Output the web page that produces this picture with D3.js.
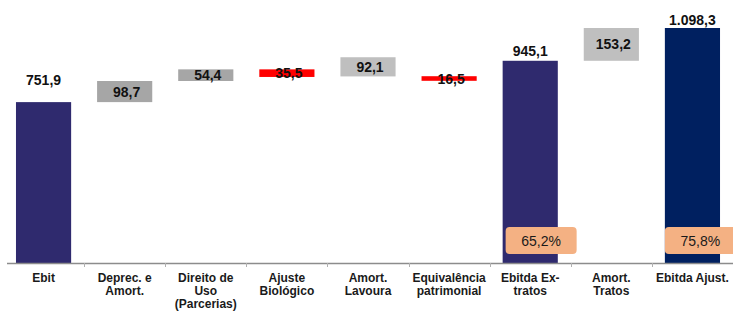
<!DOCTYPE html>
<html>
<head>
<meta charset="utf-8">
<script src="https://cdn.jsdelivr.net/npm/d3@7"></script>
<style>
  body { margin: 0; background: #fff; }
  svg { display: block; font-family: "Liberation Sans", Arial, sans-serif; }
</style>
</head>
<body>
<svg id="chart" width="733" height="312"></svg>
<script>
// categories (label lines)
const categories = ["Ebit", "Deprec. e Amort.", "Direito de Uso (Parcerias)", "Ajuste Biológico",
  "Amort. Lavoura", "Equivalência patrimonial", "Ebitda Ex-tratos", "Amort. Tratos", "Ebitda Ajust."];
const categoryLines = [["Ebit"], ["Deprec. e", "Amort."], ["Direito de", "Uso", "(Parcerias)"],
  ["Ajuste", "Biológico"], ["Amort.", "Lavoura"], ["Equivalência", "patrimonial"],
  ["Ebitda Ex-", "tratos"], ["Amort.", "Tratos"], ["Ebitda Ajust."]];

// bar spans (R$ mm) as drawn in the waterfall
const lows  = [0, 751.9, 850.6, 869.5, 872.0, 851.5, 0, 945.1, 0];
const highs = [751.9, 850.6, 905.0, 905.0, 961.6, 873.0, 945.1, 1098.3, 1098.3];
const valueLabels = ["751,9", "98,7", "54,4", "35,5", "92,1", "16,5", "945,1", "153,2", "1.098,3"];
const kinds = ["total", "up", "up", "down", "up2", "down", "total", "up2", "final"];

// margin boxes
const marginCats = ["Ebitda Ex-tratos", "Ebitda Ajust."];
const marginLabels = ["65,2%", "75,8%"];

const colors = { total: "#2f2a6e", final: "#002060", up: "#a6a6a6", up2: "#bfbfbf", down: "#ff0000" };

const svg = d3.select("#chart");
const axisY = 263;

const xOuter = d3.scaleBand().domain(categories).range([3, 733]);
const x = d3.scaleBand().domain(categories).range([3, 733]).paddingInner(0.32).paddingOuter(0.16);
const y = d3.scaleLinear().domain([0, 1098.3]).range([axisY, 28]);

const rows = categories.map((c, i) => ({ c, i, lo: lows[i], hi: highs[i], label: valueLabels[i], kind: kinds[i] }));

svg.selectAll(".bar").data(rows).join("rect")
  .attr("class", "bar")
  .attr("x", d => x(d.c))
  .attr("width", x.bandwidth())
  .attr("y", d => y(d.hi))
  .attr("height", d => y(d.lo) - y(d.hi))
  .attr("fill", d => colors[d.kind]);

// axis line + ticks between categories
svg.append("line").attr("x1", 7).attr("x2", 733).attr("y1", axisY + 0.5).attr("y2", axisY + 0.5)
  .attr("stroke", "#8c8c8c").attr("stroke-width", 1.3);
svg.selectAll(".tick").data(categories.slice(1)).join("line")
  .attr("class", "tick")
  .attr("x1", d => Math.round(xOuter(d)) + 0.5).attr("x2", d => Math.round(xOuter(d)) + 0.5)
  .attr("y1", axisY).attr("y2", axisY + 4)
  .attr("stroke", "#b0b0b0");

// value labels
const labelGap = { 0: 17, 6: 5, 8: 3 };
svg.selectAll(".val").data(rows).join("text")
  .attr("class", "val")
  .attr("x", d => x(d.c) + x.bandwidth() / 2 + (d.kind === "total" || d.kind === "final" ? 0 : 2))
  .attr("y", d => {
    if (d.lo === 0) return y(d.hi) - labelGap[d.i];
    return (y(d.lo) + y(d.hi)) / 2 + 5;
  })
  .attr("text-anchor", "middle")
  .attr("font-size", 14).attr("font-weight", "bold").attr("fill", "#111")
  .text(d => d.label);

// category labels
const cat = svg.selectAll(".cat").data(rows).join("text")
  .attr("class", "cat")
  .attr("text-anchor", "middle")
  .attr("font-size", 12).attr("font-weight", "bold").attr("fill", "#1a1a1a");
cat.selectAll("tspan").data(d => categoryLines[d.i].map(t => ({ t, c: d.c }))).join("tspan")
  .attr("x", d => xOuter(d.c) + xOuter.bandwidth() / 2)
  .attr("y", (d, j) => 282 + j * 13)
  .text(d => d.t);

// margin boxes
const boxOffset = [3, 0];
const box = svg.selectAll(".mbox").data(marginCats).join("g").attr("class", "mbox")
  .attr("transform", (d, i) => `translate(${x(d) + boxOffset[i]},227)`);
box.append("rect").attr("width", 71).attr("height", 27).attr("rx", 4)
  .attr("fill", "#f4b183");
box.append("text").attr("x", 35.5).attr("y", 18.5).attr("text-anchor", "middle")
  .attr("font-size", 14).attr("fill", "#1a1a1a")
  .text((d, i) => marginLabels[i]);
</script>
</body>
</html>
